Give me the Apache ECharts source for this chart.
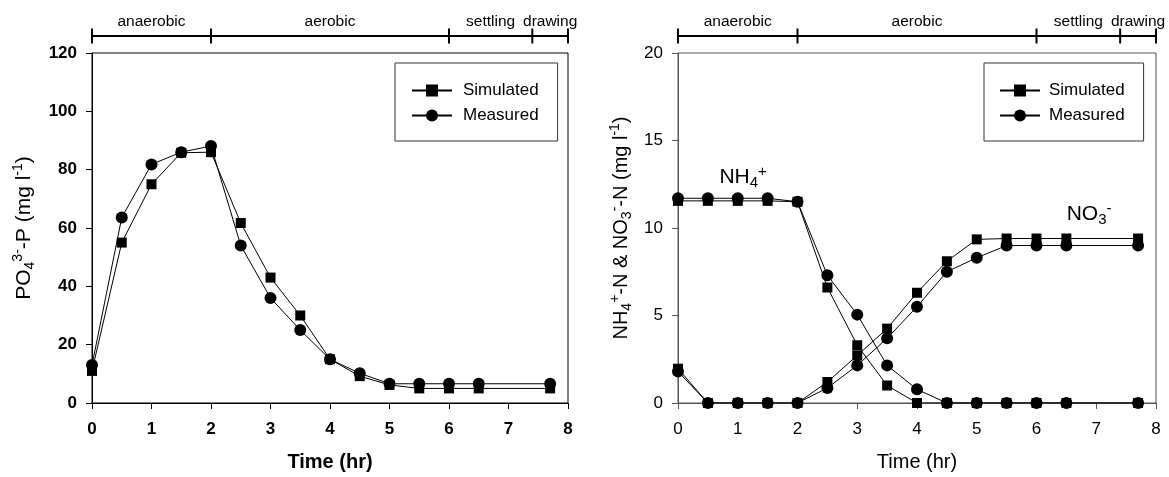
<!DOCTYPE html>
<html><head><meta charset="utf-8">
<script src="https://cdn.jsdelivr.net/npm/echarts@6/dist/echarts.min.js"></script>
<style>html,body{margin:0;padding:0;background:#fff}#c{width:1169px;height:477px}</style>
</head><body><div id="c"></div>
<script>
// ---- data ----
const timeHr = [0, 0.5, 1, 1.5, 2, 2.5, 3, 3.5, 4, 4.5, 5, 5.5, 6, 6.5, 7.7];
const po4Simulated = [11, 55, 75, 85.8, 86, 61.7, 43, 30, 15, 9.2, 6.2, 5, 5, 5, 5];
const po4Measured  = [13, 63.6, 81.8, 86, 88.1, 54, 36, 25, 15, 10.2, 6.6, 6.6, 6.6, 6.6, 6.6];
const nh4Simulated = [11.55, 11.55, 11.55, 11.55, 11.5, 6.6, 3.3, 1.0, 0, 0, 0, 0, 0, 0, 0];
const nh4Measured  = [11.7, 11.7, 11.7, 11.7, 11.5, 7.3, 5.05, 2.15, 0.78, 0, 0, 0, 0, 0, 0];
const no3Simulated = [1.96, 0, 0, 0, 0, 1.2, 2.72, 4.25, 6.3, 8.1, 9.35, 9.4, 9.4, 9.4, 9.4];
const no3Measured  = [1.8, 0, 0, 0, 0, 0.86, 2.15, 3.7, 5.5, 7.5, 8.3, 9.0, 9.0, 9.0, 9.0];
const phaseBounds = [0, 2, 6, 7.4, 8];
const phaseNames = ['anaerobic', 'aerobic', 'settling', 'drawing'];
const legendNames = ['Simulated', 'Measured'];
const annotations = [
  {text: '{n|NH}{sub|4}{sup|+}', x: 1.09, y: 12.9},
  {text: '{n|NO}{sub|3}{sup|-}', x: 6.88, y: 10.8}
];

// ---- chart ----
const F = 'Arial, "Liberation Sans", Helvetica, sans-serif';
const zip = (xs, ys) => xs.map((x, i) => [x, ys[i]]);
const phaseMid = phaseNames.map((n, i) => [(phaseBounds[i] + phaseBounds[i + 1]) / 2, 0, n]);

const chart = echarts.init(document.getElementById('c'));

function mainX(gi, color, bold) {
  return {
    type: 'value', gridIndex: gi, min: 0, max: 8, interval: 1,
    name: 'Time (hr)', nameLocation: 'middle', nameGap: 49,
    nameTextStyle: {fontFamily: F, fontSize: 20, color: '#000', fontWeight: bold ? 'bold' : 'normal'},
    axisLine: {show: true, onZero: false, lineStyle: {color: color, width: 1}},
    axisTick: {show: true, length: 6, lineStyle: {color: color}},
    axisLabel: {margin: 18, fontFamily: F, fontSize: 17, color: '#000', fontWeight: bold ? 'bold' : 'normal'},
    splitLine: {show: false}
  };
}
function mainY(gi, max, interval, name, gap, color, bold, fs) {
  const rich = {
    n: {fontFamily: F, fontSize: fs, lineHeight: 26, color: '#000'},
    sub: {fontFamily: F, fontSize: 14, lineHeight: 14, verticalAlign: 'bottom', color: '#000'},
    sup: {fontFamily: F, fontSize: 14, lineHeight: 14, verticalAlign: 'top', color: '#000'}
  };
  return {
    type: 'value', gridIndex: gi, min: 0, max: max, interval: interval,
    name: name, nameLocation: 'middle', nameGap: gap, nameRotate: 90,
    nameTextStyle: {fontFamily: F, fontSize: fs, color: '#000', rich: rich},
    axisLine: {show: true, onZero: false, lineStyle: {color: color, width: 1}},
    axisTick: {show: true, length: 6, lineStyle: {color: color}},
    axisLabel: {margin: 15, fontFamily: F, fontSize: 17, color: '#000', fontWeight: bold ? 'bold' : 'normal'},
    splitLine: {show: false}
  };
}
function hiddenX(gi) { return {type: 'value', gridIndex: gi, min: 0, max: 8, show: false}; }
function hiddenY(gi) { return {type: 'value', gridIndex: gi, min: -1, max: 1, show: false}; }

function phaseSeries(ax) {
  return [
    {type: 'line', xAxisIndex: ax, yAxisIndex: ax, data: [[phaseBounds[0], 0], [phaseBounds[phaseBounds.length - 1], 0]],
     symbol: 'none', lineStyle: {color: '#000', width: 2}, silent: true, z: 5},
    {type: 'scatter', xAxisIndex: ax, yAxisIndex: ax, data: phaseBounds.map(b => [b, 0]),
     symbol: 'rect', symbolSize: [2, 15], itemStyle: {color: '#000', opacity: 1}, silent: true, z: 5},
    {type: 'scatter', xAxisIndex: ax, yAxisIndex: ax, data: phaseMid, symbolSize: 0, silent: true,
     itemStyle: {color: '#000', opacity: 1},
     label: {show: true, position: 'top', distance: 6, formatter: p => p.data[2],
             fontFamily: F, fontSize: 15.5, color: '#000', textBorderWidth: 0}}
  ];
}
function dataSeries(ax, name, xs, ys, shape) {
  return {
    type: 'line', name: name, xAxisIndex: ax, yAxisIndex: ax, data: zip(xs, ys),
    symbol: shape === 'sq' ? 'rect' : 'circle', symbolSize: shape === 'sq' ? 10 : 12,
    showAllSymbol: true, itemStyle: {color: '#000'}, lineStyle: {color: '#000', width: 1},
    z: shape === 'sq' ? 3 : 4
  };
}
function legendAt(left, padLeft, textPad) {
  return {
    data: legendNames, orient: 'vertical', left: left, top: 63,
    padding: [19, 19, 17, padLeft], itemWidth: 40, itemHeight: 15, itemGap: 8,
    borderColor: '#333', borderWidth: 1, backgroundColor: '#fff', selectedMode: false,
    textStyle: {fontFamily: F, fontSize: 17, color: '#000', lineHeight: 15, padding: [0, 0, 0, textPad]}
  };
}

const annoRich = {
  n: {fontFamily: F, fontSize: 21, lineHeight: 26, color: '#000'},
  sub: {fontFamily: F, fontSize: 15, lineHeight: 15, verticalAlign: 'bottom', color: '#000'},
  sup: {fontFamily: F, fontSize: 15, lineHeight: 15, verticalAlign: 'top', color: '#000'}
};

const option = {
  animation: false,
  backgroundColor: '#fff',
  grid: [
    {left: 92, top: 53, width: 476, height: 352, show: true, borderColor: '#000', borderWidth: 1, backgroundColor: 'transparent'},
    {left: 92, top: 35, width: 476, height: 2},
    {left: 678, top: 53, width: 478, height: 351, show: true, borderColor: '#555', borderWidth: 1, backgroundColor: 'transparent'},
    {left: 678, top: 35, width: 478, height: 2}
  ],
  xAxis: [mainX(0, '#000', true), hiddenX(1), mainX(2, '#555', false), hiddenX(3)],
  yAxis: [
    mainY(0, 120, 20, '{n|PO}{sub|4}{sup|3-}{n|-P (mg l}{sup|-1}{n|)}', 55, '#000', true, 21),
    hiddenY(1),
    mainY(2, 20, 5, '{n|NH}{sub|4}{sup|+}{n|-N & NO}{sub|3}{sup|-}{n|-N (mg l}{sup|-1}{n|)}', 44, '#555', false, 20),
    hiddenY(3)
  ],
  legend: [legendAt(395, 16, 6), legendAt(984, 15, 4)],
  series: [
    dataSeries(0, 'Simulated', timeHr, po4Simulated, 'sq'),
    dataSeries(0, 'Measured', timeHr, po4Measured, 'ci'),
    ...phaseSeries(1),
    dataSeries(2, 'Simulated', timeHr, nh4Simulated, 'sq'),
    dataSeries(2, 'Measured', timeHr, nh4Measured, 'ci'),
    dataSeries(2, 'Simulated', timeHr, no3Simulated, 'sq'),
    dataSeries(2, 'Measured', timeHr, no3Measured, 'ci'),
    ...phaseSeries(3),
    {type: 'scatter', xAxisIndex: 2, yAxisIndex: 2, symbolSize: 0, silent: true, itemStyle: {color: '#000', opacity: 1},
     data: annotations.map(a => [a.x, a.y, a.text]),
     label: {show: true, position: 'inside', color: '#000', textBorderWidth: 0,
             formatter: p => p.data[2], rich: annoRich}}
  ]
};
chart.setOption(option);
</script></body></html>
